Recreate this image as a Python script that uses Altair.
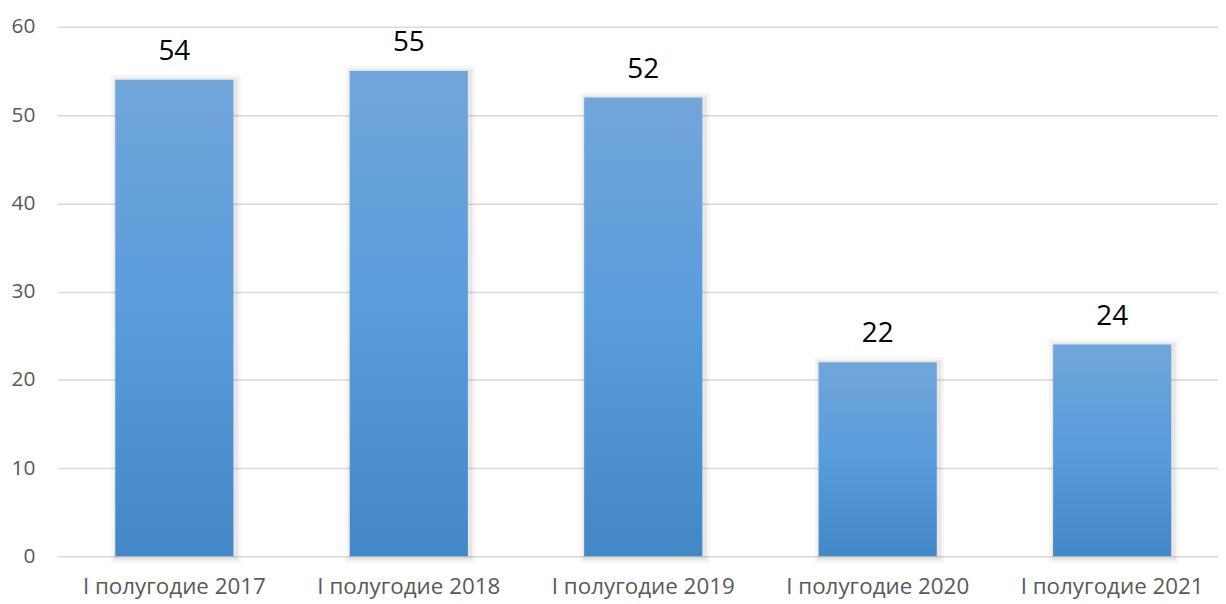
import altair as alt
import pandas as pd

categories = ["I полугодие 2017", "I полугодие 2018", "I полугодие 2019",
              "I полугодие 2020", "I полугодие 2021"]
values = [54, 55, 52, 22, 24]
y_ticks = [0, 10, 20, 30, 40, 50, 60]

df = pd.DataFrame({"period": categories, "value": values})

grad = alt.LinearGradient(
    gradient="linear", x1=0, x2=0, y1=0, y2=1,
    stops=[alt.GradientStop(color="#71A6DA", offset=0),
           alt.GradientStop(color="#599CDC", offset=0.5),
           alt.GradientStop(color="#4487C6", offset=1)])

x = alt.X("period:N", sort=categories,
          scale=alt.Scale(paddingInner=0.496, paddingOuter=0.2225, align=0.552),
          axis=alt.Axis(title=None, labelAngle=0, domain=False, ticks=False,
                        labelFont="Open Sans", labelFontSize=22.5, labelLimit=400,
                        labelColor="#595959", labelPadding=19))
y = alt.Y("value:Q", scale=alt.Scale(domain=[0, 60]),
          axis=alt.Axis(title=None, values=y_ticks, domain=False, ticks=False,
                        grid=True, gridColor="#D9D9D9", gridWidth=1.5,
                        labelFont="Open Sans", labelFontSize=21,
                        labelColor="#595959", labelPadding=23))

base = alt.Chart(df)

shadow1 = base.mark_bar(fill="#000000", fillOpacity=0, stroke="#000000",
                        strokeOpacity=0.035, strokeWidth=12, strokeJoin="miter",
                        xOffset=1.5, yOffset=1).encode(x=x, y=y)
shadow2 = base.mark_bar(fill="#000000", fillOpacity=0, stroke="#000000",
                        strokeOpacity=0.06, strokeWidth=6, strokeJoin="miter",
                        xOffset=1.5, yOffset=1).encode(x=x, y=y)
bars = base.mark_bar(color=grad).encode(x=x, y=y)
labels = base.mark_text(baseline="alphabetic", dy=-20, font="Open Sans",
                        fontSize=28, color="#000000").encode(
    x=x, y=y, text=alt.Text("value:Q"))

chart = alt.layer(shadow1, shadow2, bars, labels).properties(
    width=1168, height=533,
    padding={"left": 50, "top": 17, "right": 0, "bottom": 46},
    autosize="none",
).configure_view(stroke=None)

chart.save("out.html", embed_options={"renderer": "svg", "actions": False})
